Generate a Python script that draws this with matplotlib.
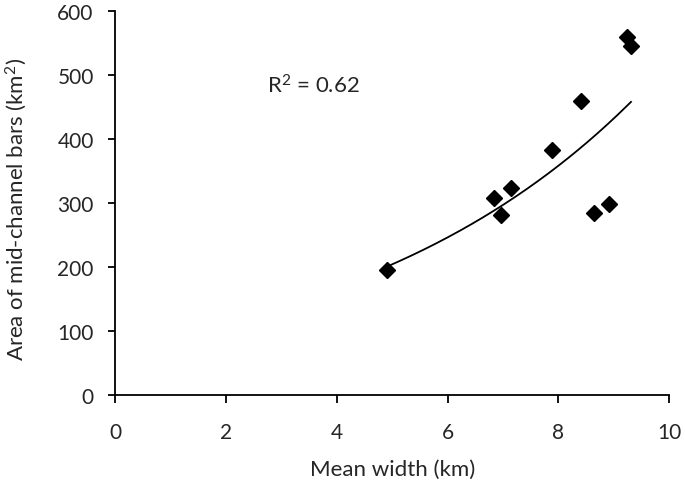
import numpy as np
import matplotlib
matplotlib.use("Agg")
import matplotlib.pyplot as plt

# Data
mean_width = [4.90, 6.83, 6.96, 7.14, 7.88, 8.41, 8.65, 8.92, 9.24, 9.31]
bar_area = [195, 308, 281, 324, 382, 460, 285, 299, 560, 545]
r2_label = "R$^2$ = 0.62"
x_ticks = [0, 2, 4, 6, 8, 10]
y_ticks = [0, 100, 200, 300, 400, 500, 600]

plt.rcParams['font.family'] = ['Lato', 'DejaVu Sans']
plt.rcParams['mathtext.default'] = 'regular'

fig = plt.figure(figsize=(6.85, 4.81), dpi=100)
ax = fig.add_axes([0.168, 0.177, 0.809, 0.798])

x = np.array(mean_width)
y = np.array(bar_area)
ax.plot(x, y, linestyle='none', marker='D', markersize=8.5, color='black', zorder=3)

# exponential trendline fitted to the data
b, ln_a = np.polyfit(x, np.log(y), 1)
xf = np.linspace(x.min(), x.max(), 200)
ax.plot(xf, np.exp(ln_a) * np.exp(b * xf), color='black', linewidth=1.3, zorder=2)

ax.text(2.74, 484, r2_label, fontsize=16, color='#262626', va='center', ha='left')

ax.set_xlim(0, 10)
ax.set_ylim(0, 600)
ax.set_xticks(x_ticks)
ax.set_yticks(y_ticks)
for s in ['top', 'right']:
    ax.spines[s].set_visible(False)
for s in ['left', 'bottom']:
    ax.spines[s].set_linewidth(1.3)
    ax.spines[s].set_color('black')
ax.tick_params(direction='out', length=5.4, width=1.3, labelsize=15, labelcolor='#262626')
ax.tick_params(axis='x', pad=14)
ax.tick_params(axis='y', pad=10)
ax.set_xlabel('Mean width (km)', fontsize=16, color='#262626')
ax.set_ylabel('Area of mid-channel bars (km$^2$)', fontsize=16, color='#262626')
ax.xaxis.set_label_coords(0.5, -0.167)
ax.yaxis.set_label_coords(-0.156, 0.485)

fig.savefig('out.png', dpi=100)
